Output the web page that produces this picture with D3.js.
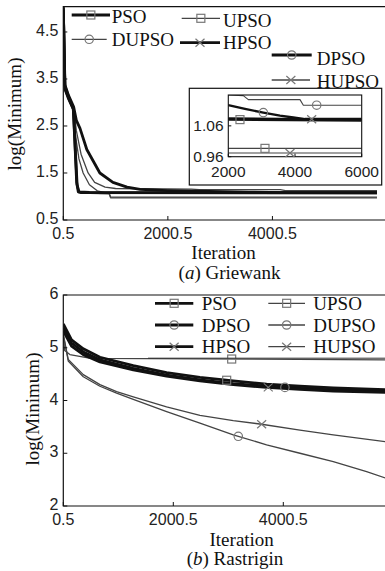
<!DOCTYPE html>
<html><head><meta charset="utf-8">
<script src="https://cdn.jsdelivr.net/npm/d3@7"></script>
<style>body{margin:0;background:#fff}svg{display:block}</style>
</head><body><svg id="c" width="385" height="571"></svg>
<script>
// ---------------- DATA ----------------
const seriesNames = ["PSO","UPSO","DUPSO","HPSO","DPSO","HUPSO"];

// (a) Griewank : [iteration, log(Minimum)]
const griewankPSO   = [[0.5,5.02],[12,4.4],[30,3.35],[100,3.12],[190,2.88],[220,2.2],[256,1.3],[287,1.1],[350,1.082],[6000,1.077]];
const griewankHPSO  = [[0.5,4.98],[14,4.3],[34,3.28],[100,3.08],[195,2.85],[230,2.0],[265,1.25],[300,1.1],[500,1.085],[6000,1.08]];
const griewankUPSO  = [[0.5,5.0],[13,4.35],[32,3.3],[100,3.1],[185,2.9],[215,2.3],[250,1.4],[280,1.15],[330,1.07],[880,1.055],[905,0.987],[6000,0.987]];
const griewankHUPSO = [[0.5,4.99],[14,4.32],[33,3.25],[100,3.06],[195,2.82],[240,2.25],[300,1.8],[380,1.5],[500,1.25],[650,1.12],[880,1.06],[905,0.972],[6000,0.972]];
const griewankDUPSO = [[0.5,5.01],[13,4.38],[31,3.32],[100,3.1],[200,2.86],[250,2.4],[340,1.9],[475,1.5],[600,1.3],[800,1.2],[1000,1.17],[2000,1.16],[2450,1.158],[2600,1.145],[4150,1.145],[4250,1.127],[6000,1.127]];
const griewankDPSO  = [[0.5,5.03],[12,4.42],[30,3.38],[100,3.15],[200,2.9],[250,2.62],[320,2.45],[450,2.0],[700,1.5],[950,1.3],[1220,1.2],[1470,1.15],[2000,1.127],[2500,1.115],[3050,1.103],[3550,1.093],[3950,1.087],[4300,1.082],[6000,1.082]];
const griewankMarkerIter = {PSO:2350, UPSO:3100, DUPSO:4650, HPSO:4500, DPSO:3050, HUPSO:3850};

const griewankYTicks = [0.5,1.5,2.5,3.5,4.5];
const griewankXTicks = [0.5,2000.5,4000.5];
const insetXTicks = [2000,4000,6000];
const insetYTicks = [0.96,1.06];

// (b) Rastrigin
const rastriginPSO   = [[0.5,5.45],[150,5.15],[364,4.98],[667,4.82],[1273,4.66],[1879,4.53],[2485,4.44],[3091,4.37],[3697,4.31],[4303,4.27],[4909,4.24],[6000,4.2]];
const rastriginDPSO  = [[0.5,5.38],[150,5.09],[364,4.92],[667,4.77],[1273,4.61],[1879,4.48],[2485,4.39],[3091,4.32],[3697,4.27],[4303,4.23],[4909,4.2],[6000,4.17]];
const rastriginHPSO  = [[0.5,5.32],[150,5.03],[364,4.87],[667,4.73],[1273,4.58],[1879,4.46],[2485,4.37],[3091,4.3],[3697,4.25],[4303,4.21],[4909,4.18],[6000,4.15]];
const rastriginUPSO  = [[0.5,5.22],[25,4.95],[120,4.87],[500,4.8],[6000,4.77]];
const rastriginDUPSO = [[0.5,5.25],[90,4.75],[364,4.45],[667,4.27],[970,4.14],[1273,4.02],[1879,3.79],[2485,3.57],[3091,3.35],[3697,3.16],[4303,3.0],[4909,2.84],[5515,2.65],[6000,2.48]];
const rastriginHUPSO = [[0.5,5.25],[90,4.78],[364,4.49],[667,4.3],[970,4.17],[1273,4.07],[1879,3.88],[2485,3.72],[3091,3.62],[3606,3.55],[4303,3.44],[4909,3.35],[6000,3.2]];
const rastriginMarkerIter = {PSO:2971, UPSO:3062, DUPSO:3182, HPSO:3727, DPSO:4030, HUPSO:3607};

const rastriginYTicks = [2,3,4,5,6];
const rastriginXTicks = [0.5,2000.5,4000.5];

// ---------------- STYLE / LAYOUT ----------------
const style = {
  PSO:  {w:2.8, c:"#111", m:"square"},
  DPSO: {w:2.8, c:"#111", m:"circle"},
  HPSO: {w:2.8, c:"#111", m:"cross"},
  UPSO: {w:1.3, c:"#444", m:"square"},
  DUPSO:{w:1.3, c:"#444", m:"circle"},
  HUPSO:{w:1.3, c:"#444", m:"cross"}
};
const gData = {PSO:griewankPSO,UPSO:griewankUPSO,DUPSO:griewankDUPSO,HPSO:griewankHPSO,DPSO:griewankDPSO,HUPSO:griewankHUPSO};
const rData = {PSO:rastriginPSO,UPSO:rastriginUPSO,DUPSO:rastriginDUPSO,HPSO:rastriginHPSO,DPSO:rastriginDPSO,HUPSO:rastriginHUPSO};

const topLegendLayout = {
  PSO:  [71.7,110,15,111.7,23],
  UPSO: [181.7,220,18.3,223,26.5],
  DUPSO:[71.7,106.7,39.3,111.7,46],
  HPSO: [180,220,42.7,223,49],
  DPSO: [271.7,311.7,55,316.7,64.5],
  HUPSO:[271.7,310,80,316.7,87.5]
};
const botLegendLayout = {
  PSO:  [155,193.3,303.3,201.7,310],
  UPSO: [268.3,305,303.3,313.3,310],
  DPSO: [155,193.3,325,201.7,331.7],
  DUPSO:[268.3,305,325,313.3,331.7],
  HPSO: [155,193.3,346.7,201.7,353.3],
  HUPSO:[268.3,305,346.7,313.3,353.3]
};

const serif = "'Liberation Serif','Times New Roman',serif";
const sans = "'Liberation Sans',Arial,sans-serif";
const svg = d3.select("#c");

function interp(pts, x){
  for (let i=1;i<pts.length;i++){
    if (x<=pts[i][0]){
      const a=pts[i-1], b=pts[i], t=(x-a[0])/(b[0]-a[0]);
      return a[1]+t*(b[1]-a[1]);
    }
  }
  return pts[pts.length-1][1];
}
function marker(g, type, cx, cy){
  const col="#777";
  if (type==="square") g.append("rect").attr("x",cx-4).attr("y",cy-4).attr("width",8).attr("height",8).attr("fill","none").attr("stroke",col).attr("stroke-width",1.2);
  else if (type==="circle") g.append("circle").attr("cx",cx).attr("cy",cy).attr("r",4.2).attr("fill","none").attr("stroke",col).attr("stroke-width",1.2);
  else { g.append("path").attr("d",`M${cx-4.5},${cy-4}L${cx+4.5},${cy+4}M${cx-4.5},${cy+4}L${cx+4.5},${cy-4}`).attr("stroke",col).attr("stroke-width",1.2).attr("fill","none"); }
}
function drawAxes(g, x, y, xt, yt, xFmt, yFmt, fs, labOff, xRight, tickLen){
  const [x0] = x.range(); const [yb, yt0] = y.range();
  g.append("path").attr("d",`M${xRight},${yt0}H${x0}V${yb}H${xRight}`).attr("fill","none").attr("stroke","#111").attr("stroke-width",1.2);
  xt.forEach(v=>{
    g.append("line").attr("x1",x(v)).attr("x2",x(v)).attr("y1",yb).attr("y2",yb-tickLen).attr("stroke","#111");
    g.append("text").attr("x",x(v)).attr("y",yb+labOff).attr("text-anchor","middle").attr("font-family",sans).attr("font-size",fs).attr("fill","#222").text(xFmt(v));
  });
  yt.forEach(v=>{
    g.append("line").attr("x1",x0).attr("x2",x0+tickLen).attr("y1",y(v)).attr("y2",y(v)).attr("stroke","#111");
    g.append("text").attr("x",x0-5).attr("y",y(v)).attr("dy","0.25em").attr("text-anchor","end").attr("font-family",sans).attr("font-size",fs).attr("fill","#222").text(yFmt(v));
  });
}
function drawLines(g, data, x, y, clipId, scaleW){
  const line = d3.line().x(d=>x(d[0])).y(d=>y(d[1]));
  const gl = g.append("g").attr("clip-path",`url(#${clipId})`);
  ["UPSO","HUPSO","DUPSO","DPSO","HPSO","PSO"].forEach(n=>{
    gl.append("path").datum(data[n]).attr("d",line).attr("fill","none")
      .attr("stroke",style[n].c).attr("stroke-width",style[n].w*scaleW).attr("stroke-linejoin","round");
  });
  return gl;
}
function drawLegend(g, layout){
  seriesNames.forEach(n=>{
    const [a,b,ly,tx,ty] = layout[n];
    g.append("line").attr("x1",a).attr("x2",b).attr("y1",ly).attr("y2",ly).attr("stroke",style[n].c).attr("stroke-width",style[n].w);
    marker(g, style[n].m, (a+b)/2, ly);
    g.append("text").attr("x",tx).attr("y",ty).attr("font-family",serif).attr("font-size",19).attr("fill","#111").text(n);
  });
}
const defs = svg.append("defs");
function clip(id, x0,y0,x1,y1){ defs.append("clipPath").attr("id",id).append("rect").attr("x",x0).attr("y",y0).attr("width",x1-x0).attr("height",y1-y0); }

// ---------------- (a) Griewank ----------------
const gx = d3.scaleLinear().domain([0.5,6000.5]).range([63.3,377]);
const gy = d3.scaleLinear().domain([0.5,5.04]).range([220,6.6]);
const gTop = svg.append("g");
clip("clipA", 63.3, 6.6, 400, 220);
drawLines(gTop, gData, gx, gy, "clipA", 1);
drawAxes(gTop, gx, gy, griewankXTicks, griewankYTicks, d3.format(".1f"), d3.format(".1f"), 16, 18.7, 400, 4);
drawLegend(gTop, topLegendLayout);

// inset
const ix = d3.scaleLinear().domain([2000,6000]).range([228.3,361.7]);
const iy = d3.scaleLinear().domain([0.96,1.16]).range([156.7,95]);
const gIn = svg.append("g");
gIn.append("rect").attr("x",189.3).attr("y",88.3).attr("width",192.4).attr("height",96.7).attr("fill","#fff").attr("stroke","#111").attr("stroke-width",1.2);
clip("clipIn", 228.3, 95, 361.7, 156.7);
drawLines(gIn, gData, ix, iy, "clipIn", 0.85);
gIn.append("rect").attr("x",228.3).attr("y",95).attr("width",133.4).attr("height",61.7).attr("fill","none").attr("stroke","#111").attr("stroke-width",1.1);
insetXTicks.forEach(v=>{
  gIn.append("line").attr("x1",ix(v)).attr("x2",ix(v)).attr("y1",156.7).attr("y2",153.7).attr("stroke","#111");
  gIn.append("text").attr("x",ix(v)).attr("y",176.7).attr("text-anchor","middle").attr("font-family",sans).attr("font-size",15.5).attr("fill","#222").text(v);
});
insetYTicks.forEach(v=>{
  gIn.append("line").attr("x1",228.3).attr("x2",231.3).attr("y1",iy(v)).attr("y2",iy(v)).attr("stroke","#111");
  gIn.append("text").attr("x",223.5).attr("y",iy(v)).attr("dy","0.36em").attr("text-anchor","end").attr("font-family",sans).attr("font-size",15.5).attr("fill","#222").text(d3.format(".2f")(v));
});
seriesNames.forEach(n=>{
  const it = griewankMarkerIter[n];
  marker(gIn, style[n].m, ix(it), iy(interp(gData[n], it)));
});

// titles (a)
gTop.append("text").attr("transform","translate(15,114) rotate(-90)").attr("dy","0.33em").attr("text-anchor","middle")
  .attr("font-family",serif).attr("font-size",19).attr("fill","#111").text("log(Minimum)");
gTop.append("text").attr("x",223.5).attr("y",258.7).attr("text-anchor","middle").attr("font-family",serif).attr("font-size",19).attr("fill","#111").text("Iteration");
const capA = gTop.append("text").attr("x",229.5).attr("y",279).attr("text-anchor","middle").attr("font-family",serif).attr("font-size",19).attr("fill","#111");
capA.append("tspan").text("(");
capA.append("tspan").attr("font-style","italic").text("a");
capA.append("tspan").text(") Griewank");

// ---------------- (b) Rastrigin ----------------
const rx = d3.scaleLinear().domain([0.5,6000.5]).range([63.3,393.3]);
const ry = d3.scaleLinear().domain([2,6]).range([506,295]);
const gBot = svg.append("g");
clip("clipB", 63.3, 295, 400, 506);
const glB = drawLines(gBot, rData, rx, ry, "clipB", 1);
seriesNames.forEach(n=>{
  const it = rastriginMarkerIter[n];
  marker(glB, style[n].m, rx(it), ry(interp(rData[n], it)));
});
drawAxes(gBot, rx, ry, rastriginXTicks, rastriginYTicks, d3.format(".1f"), d3.format("d"), 16, 19, 400, 4);
gBot.append("line").attr("x1",148).attr("x2",400).attr("y1",358.2).attr("y2",358.2).attr("stroke","#333").attr("stroke-width",1);
drawLegend(gBot, botLegendLayout);

gBot.append("text").attr("transform","translate(33,409) rotate(-90)").attr("dy","0.33em").attr("text-anchor","middle")
  .attr("font-family",serif).attr("font-size",19).attr("fill","#111").text("log(Minimum)");
gBot.append("text").attr("x",241.7).attr("y",546).attr("text-anchor","middle").attr("font-family",serif).attr("font-size",19).attr("fill","#111").text("Iteration");
const capB = gBot.append("text").attr("x",235).attr("y",565).attr("text-anchor","middle").attr("font-family",serif).attr("font-size",19).attr("fill","#111");
capB.append("tspan").text("(");
capB.append("tspan").attr("font-style","italic").text("b");
capB.append("tspan").text(") Rastrigin");
</script></body></html>
